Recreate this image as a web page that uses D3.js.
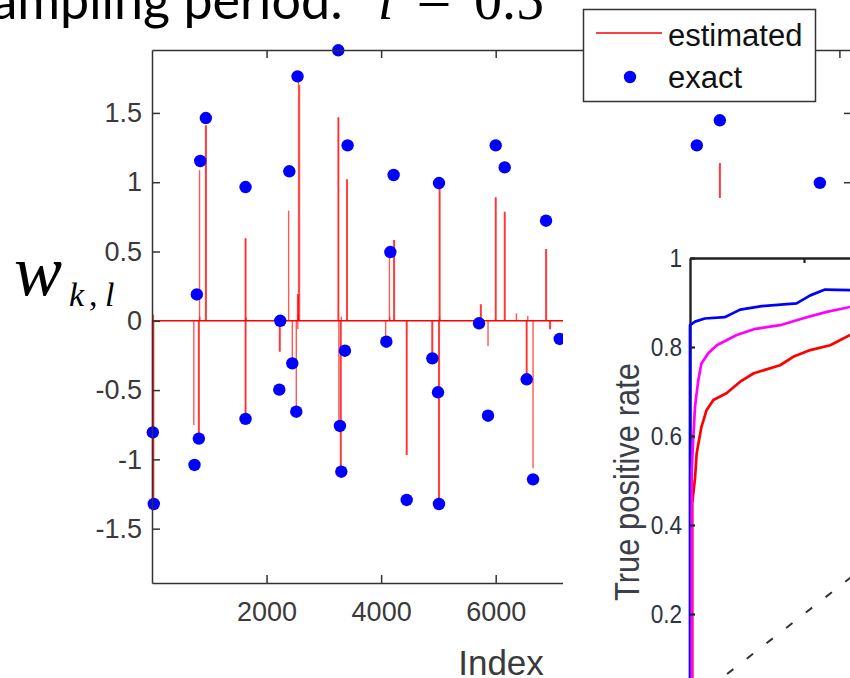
<!DOCTYPE html>
<html>
<head>
<meta charset="utf-8">
<script src="https://cdn.jsdelivr.net/npm/d3@7"></script>
<style>
  html, body { margin: 0; padding: 0; background: #fff; }
  svg { display: block; }
</style>
</head>
<body>
<svg id="fig" width="850" height="678"></svg>
<script>
// ---- weight recovery panel -------------------------------------------------
// exact weights w_{k,l}: sample index and value
const exactIndex = [14, 31, 742, 783, 818, 842, 940, 1633, 1633, 2222, 2239, 2397, 2449, 2519, 2541,
  3252, 3281, 3305, 3368, 3415, 4091, 4161, 4218, 4446, 4894, 4993, 5010, 5010, 5709, 5866,
  6000, 6157, 6541, 6652, 6879, 7118, 9511, 9913, 11659];
const exactValue = [-0.805, -1.322, -1.04, 0.19, -0.85, 1.153, 1.463, 0.965, -0.708, -0.497, 0.0, 1.079, -0.307, -0.656, 1.764,
  1.952, -0.759, -1.089, -0.216, 1.266, -0.151, 0.496, 1.052, -1.293, -0.271, -0.516, 0.994, -1.322, -0.018, -0.685,
  1.266, 1.107, -0.422, -1.144, 0.722, -0.131, 1.266, 1.447, 0.995];

// estimated weights: nonzero samples (everything else is 0)
const estIndex = [8, 20, 30, 25, 730, 812, 825, 830, 835, 935, 948, 1628, 1640, 1628, 1640, 1645,
  2225, 2237, 2385, 2449, 2519, 2541, 2553, 2545, 2550, 2559, 2575,
  3247, 3259, 3262, 3290, 3302, 3305, 3398, 3410, 4079, 4145, 4150, 4220, 4232, 4441, 4453,
  4885, 4900, 5005, 5017, 5015, 5028, 5020, 5735, 5747, 5866, 5995, 6007, 6152, 6164, 6361,
  6535, 6547, 6560, 6652, 6874, 6886, 6943, 6955, 9908, 9920];
const estValue = [-1.322, -1.322, -1.30, 0.045, -0.752, -0.836, -0.836, 1.087, 0.03, 1.41, 1.41, 0.595, 0.595, -0.708, -0.708, 0.025,
  -0.223, -0.223, 0.795, -0.307, -0.656, 0.193, 0.19, -0.06, 0.045, 1.737, 1.70,
  1.468, 1.468, -0.76, -1.089, -1.089, 0.03, 1.021, 1.021, -0.127, 0.487, 0.03, 0.583, 0.583, -0.968, -0.968,
  -0.27, -0.27, -1.322, -1.322, 0.968, 0.968, 0.025, 0.119, 0.119, -0.182, 0.891, 0.891, 0.787, 0.787, 0.054,
  -0.422, -0.422, 0.035, -1.064, 0.518, 0.518, -0.061, -0.061, 1.138, 1.138];

const indexMax = 12220;
const xTicks = [2000, 4000, 6000, 8000, 10000, 12000];
const xTickLabels = ["2000", "4000", "6000", "", "", ""];
const yTicks = [-1.5, -1, -0.5, 0, 0.5, 1, 1.5];
const yTickLabels = ["-1.5", "-1", "-0.5", "0", "0.5", "1", "1.5"];

// ---- ROC panel ---------------------------------------------------------------
const blueFpr = [0, 0, 0.0088, 0.026, 0.061, 0.088, 0.126, 0.187, 0.211, 0.237, 0.281];
const blueTpr = [0, 0.849, 0.857, 0.864, 0.867, 0.884, 0.892, 0.898, 0.916, 0.929, 0.928];
const magentaFpr = [0.003, 0.003, 0.006, 0.0088, 0.0146, 0.02, 0.032, 0.047, 0.082, 0.112, 0.158, 0.205, 0.240, 0.281];
const magentaTpr = [0, 0.52, 0.60, 0.666, 0.726, 0.763, 0.786, 0.804, 0.827, 0.840, 0.849, 0.867, 0.879, 0.890];
const redFpr = [0.004, 0.004, 0.0088, 0.0117, 0.02, 0.029, 0.041, 0.064, 0.088, 0.112, 0.158, 0.181, 0.211, 0.246, 0.281];
const redTpr = [0, 0.45, 0.505, 0.561, 0.620, 0.658, 0.681, 0.696, 0.722, 0.741, 0.759, 0.778, 0.793, 0.804, 0.827];
const chanceFpr = [0, 1];
const chanceTpr = [0, 1];
const rocTicks = [0.2, 0.4, 0.6, 0.8, 1];
const rocTickLabels = ["0.2", "0.4", "0.6", "0.8", "1"];

const svg = d3.select("#fig");
const AX = "#333333";
const TXT = "#3a3a3a";
const SANS = "'Liberation Sans', Arial, sans-serif";
const SERIF = "'Liberation Serif', 'Times New Roman', serif";

// ---------- left panel ----------
const x = d3.scaleLinear().domain([0, indexMax]).range([152, 852]);
const y = d3.scaleLinear().domain([-1.892, 1.954]).range([583, 50]);

const left = svg.append("g");

// zero level of the estimate
left.append("path")
  .datum([[0, 0], [indexMax, 0]])
  .attr("d", d3.line().x(d => x(d[0])).y(d => y(d[1])))
  .attr("fill", "none").attr("stroke", "#ff0000").attr("stroke-width", 1.6);

// estimate spikes
left.append("g").selectAll("path")
  .data(d3.range(estIndex.length))
  .join("path")
  .attr("d", i => d3.line().x(d => x(d[0])).y(d => y(d[1]))([[estIndex[i], 0], [estIndex[i], estValue[i]]]))
  .attr("fill", "none").attr("stroke", "#ff0000")
  .attr("stroke-width", 1.4).attr("stroke-opacity", 0.66);

// exact weights
left.append("g").selectAll("circle")
  .data(d3.range(exactIndex.length))
  .join("circle")
  .attr("cx", i => x(exactIndex[i]))
  .attr("cy", i => y(exactValue[i]))
  .attr("r", 6.2)
  .attr("fill", "#0000ff");

function styleAxis(g) {
  g.selectAll("path.domain").attr("stroke", AX).attr("stroke-width", 1.5);
  g.selectAll(".tick line").attr("stroke", AX).attr("stroke-width", 1.5);
  g.selectAll("text").attr("fill", TXT);
}

left.append("g").attr("transform", "translate(0,583)")
  .call(d3.axisBottom(x).tickValues(xTicks).tickSize(-8).tickSizeOuter(0).tickPadding(19)
    .tickFormat((d, i) => xTickLabels[i]))
  .attr("font-family", SANS).attr("font-size", 27)
  .call(styleAxis);
left.append("g").attr("transform", "translate(0,50)")
  .call(d3.axisTop(x).tickValues(xTicks).tickSize(-8).tickSizeOuter(0).tickFormat(""))
  .call(styleAxis);
left.append("g").attr("transform", "translate(152,0)")
  .call(d3.axisLeft(y).tickValues(yTicks).tickSize(-8).tickSizeOuter(0).tickPadding(10)
    .tickFormat((d, i) => yTickLabels[i]))
  .attr("font-family", SANS).attr("font-size", 27)
  .call(styleAxis);
left.append("g").attr("transform", "translate(852,0)")
  .call(d3.axisRight(y).tickValues(yTicks).tickSize(-8).tickSizeOuter(0).tickFormat(""))
  .call(styleAxis);

left.append("text").attr("x", 501).attr("y", 675)
  .attr("text-anchor", "middle").attr("font-family", SANS).attr("font-size", 35)
  .attr("fill", TXT).text("Index");

// y label w_{k,l}
const wl = left.append("g").attr("font-family", SERIF).attr("font-style", "italic").attr("fill", "#000");
wl.append("text").attr("x", 14).attr("y", 295).attr("font-size", 72).text("w");
wl.append("text").attr("x", 69).attr("y", 306).attr("font-size", 34).text("k");
wl.append("text").attr("x", 89).attr("y", 306).attr("font-size", 34).attr("font-style", "normal").text(",");
wl.append("text").attr("x", 105).attr("y", 306).attr("font-size", 34).text("l");

// heading
const head = svg.append("g").attr("fill", "#000");
head.append("text").attr("x", 343).attr("y", 19).attr("text-anchor", "end")
  .attr("font-family", "Lato, 'Open Sans', sans-serif").attr("font-size", 52).text("Sampling period:");
head.append("text").attr("x", 378).attr("y", 19).attr("font-family", SERIF)
  .attr("font-style", "italic").attr("font-size", 56).text("l");
head.append("text").attr("x", 434).attr("y", 19).attr("text-anchor", "middle").attr("font-family", SERIF)
  .attr("font-size", 62).text("=");
head.append("text").attr("x", 474).attr("y", 19).attr("font-family", SERIF)
  .attr("font-size", 56).text("0.5");

// ---------- ROC panel (sits over the right part) ----------
svg.append("rect").attr("x", 563).attr("y", 198).attr("width", 287).attr("height", 480).attr("fill", "#fff");

svg.append("defs").append("clipPath").attr("id", "rocClip")
  .append("rect").attr("x", 563).attr("y", 198).attr("width", 287).attr("height", 480);

const roc = svg.append("g").attr("clip-path", "url(#rocClip)");
const xr = d3.scaleLinear().domain([0, 1]).range([690, 1260]);
const yr = d3.scaleLinear().domain([0, 1]).range([703, 258]);
const rocLine = d3.line().x(d => xr(d[0])).y(d => yr(d[1]));

// box lines
roc.append("g").attr("transform", "translate(690,0)")
  .call(d3.axisLeft(yr).tickValues([]).tickSizeOuter(0))
  .selectAll("path.domain").attr("stroke", "#222").attr("stroke-width", 2.4);
roc.append("g").attr("transform", "translate(0,258)")
  .call(d3.axisTop(xr).tickValues([0.2, 0.4, 0.6, 0.8]).tickSize(-5).tickSizeOuter(0).tickFormat(""))
  .call(g => g.selectAll("path.domain").attr("stroke", "#222").attr("stroke-width", 2.4))
  .call(g => g.selectAll(".tick line").attr("stroke", "#222").attr("stroke-width", 2.2));

// chance diagonal
roc.append("path").datum(chanceFpr.map((v, i) => [v, chanceTpr[i]]))
  .attr("d", rocLine).attr("fill", "none").attr("stroke", "#333")
  .attr("stroke-width", 2).attr("stroke-dasharray", "8,17").attr("stroke-dashoffset", 3);

const curves = [
  [blueFpr, blueTpr, "#0000ff"],
  [redFpr, redTpr, "#ff0000"],
  [magentaFpr, magentaTpr, "#ff00ff"]
];
curves.forEach(([fx, ty, col]) => {
  roc.append("path").datum(fx.map((v, i) => [v, ty[i]]))
    .attr("d", rocLine).attr("fill", "none").attr("stroke", col)
    .attr("stroke-width", 2.7).attr("stroke-linejoin", "round");
});

// y ticks and labels
roc.append("g").attr("transform", "translate(690,0)")
  .call(d3.axisLeft(yr).tickValues(rocTicks).tickSize(-5).tickSizeOuter(0).tickPadding(9)
    .tickFormat((d, i) => rocTickLabels[i]))
  .attr("font-family", SANS).attr("font-size", 26)
  .call(g => g.select("path.domain").remove())
  .call(g => g.selectAll(".tick line").attr("stroke", "#222").attr("stroke-width", 2.2))
  .call(g => g.selectAll("text").attr("fill", "#2e3440").attr("transform", "scale(0.87,1)"));

roc.append("text")
  .attr("transform", "translate(639,482) rotate(-90) scale(0.86,1)")
  .attr("text-anchor", "middle").attr("font-family", SANS).attr("font-size", 36)
  .attr("fill", "#3b3f48").text("True positive rate");

// ---------- legend ----------
const lg = svg.append("g");
lg.append("rect").attr("x", 583.5).attr("y", 9.5).attr("width", 232).attr("height", 92)
  .attr("fill", "#fff").attr("stroke", AX).attr("stroke-width", 1.5);
lg.append("line").attr("x1", 596).attr("x2", 662).attr("y1", 33).attr("y2", 33)
  .attr("stroke", "#ff0000").attr("stroke-width", 1.5);
lg.append("circle").attr("cx", 630).attr("cy", 77).attr("r", 6.2).attr("fill", "#0000ff");
lg.append("text").attr("x", 668).attr("y", 46).attr("font-family", SANS).attr("font-size", 31)
  .attr("fill", "#111").text("estimated");
lg.append("text").attr("x", 668).attr("y", 88).attr("font-family", SANS).attr("font-size", 31)
  .attr("fill", "#111").text("exact");
</script>
</body>
</html>
